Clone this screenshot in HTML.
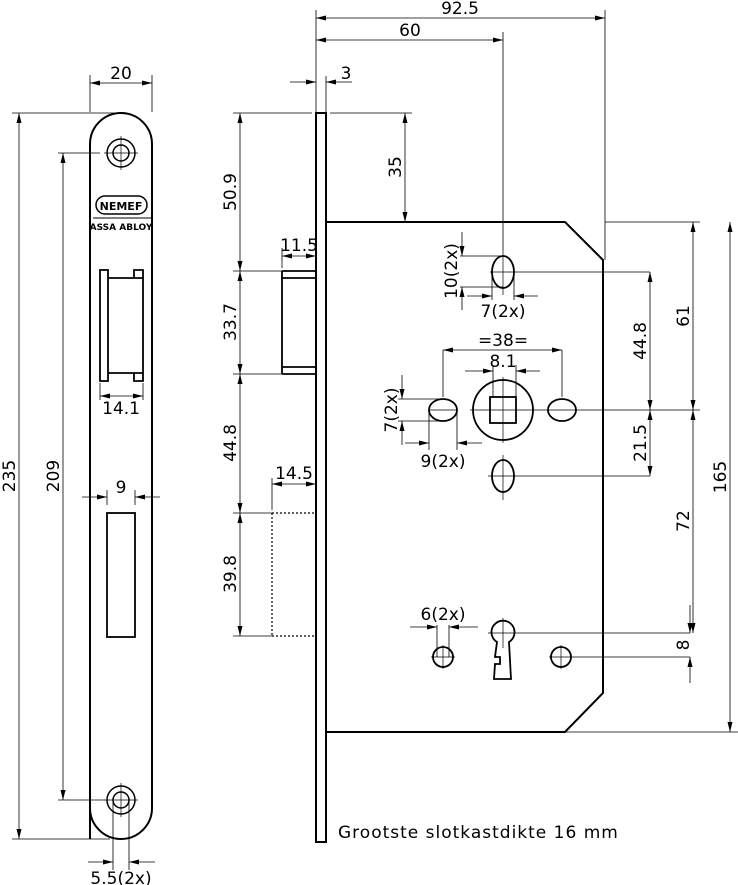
<!DOCTYPE html>
<html><head><meta charset="utf-8"><style>
html,body{margin:0;padding:0;background:#fff;}
svg{display:block;}
text{font-family:"DejaVu Sans","Liberation Sans",sans-serif;font-size:17px;fill:#000;}
</style></head><body>
<svg width="738" height="885" viewBox="0 0 738 885" xmlns="http://www.w3.org/2000/svg">
<defs>
<marker id="a" viewBox="0 0 10 6" refX="10" refY="3" markerWidth="10" markerHeight="6" orient="auto-start-reverse" markerUnits="userSpaceOnUse"><path d="M0,0.5 L10,3 L0,5.5 z" fill="#000"/></marker>
</defs>
<g fill="none" stroke="#000">
<path d="M90,839 L90,144 A31,31 0 0 1 152,144 L152,808 A31,31 0 0 1 90,808" stroke-width="2"/>
<circle cx="121" cy="153" r="14" stroke-width="1.5"/><circle cx="121" cy="153" r="8" stroke-width="1.5"/>
<circle cx="121" cy="800" r="14" stroke-width="1.5"/><circle cx="121" cy="800" r="8" stroke-width="1.5"/>
<path d="M121,136V170M104,153H138M121,783V817M104,800H138" stroke-width="0.7"/>
<rect x="96" y="196" width="51" height="18" rx="9" stroke-width="1.5"/>
<path d="M93,218H151" stroke-width="1"/>
<rect x="100" y="270" width="8" height="111" stroke-width="1.8"/>
<path d="M108,278H143V270H134V278M108,373H143V381H134V373M143,278V373" stroke-width="1.8"/>
<rect x="107" y="513" width="28" height="124" stroke-width="1.8"/>
<g stroke-width="0.8">
<path d="M90,112V75M152,112V75"/>
<path d="M90,83H152" marker-start="url(#a)" marker-end="url(#a)"/>
<path d="M12,113H120M58,153H100M12,839H110M58,800H105"/>
<path d="M19,113V839" marker-start="url(#a)" marker-end="url(#a)"/>
<path d="M63,153V800" marker-start="url(#a)" marker-end="url(#a)"/>
<path d="M100,383V400M143,383V400"/>
<path d="M100,396H143" marker-start="url(#a)" marker-end="url(#a)"/>
<path d="M107,505V490M135,505V490"/>
<path d="M82,497H107" marker-end="url(#a)"/><path d="M160,497H135" marker-end="url(#a)"/>
<path d="M113,800V870M129,800V870"/>
<path d="M88,862H113" marker-end="url(#a)"/><path d="M155,862H129" marker-end="url(#a)"/>
</g>
<rect x="316" y="113" width="10" height="729" stroke-width="2"/>
<path d="M326,222H565L603,260V693L565,732H326" stroke-width="2"/>
<path d="M282,271H316M282,278H316M282,367H316M282,374H316M282,271V374" stroke-width="1.8"/>
<path d="M272,513H316M272,636H316M272,513V636" stroke-width="1.2" stroke-dasharray="2,2"/>
<g stroke-width="1.8">
<ellipse cx="503" cy="272" rx="11" ry="16"/>
<ellipse cx="503" cy="476" rx="11" ry="16"/>
<circle cx="503" cy="410" r="30"/>
<rect x="490" y="397" width="26" height="26"/>
<ellipse cx="443" cy="410" rx="14" ry="11"/>
<ellipse cx="562" cy="410" rx="14" ry="11"/>
<circle cx="443" cy="657" r="10"/>
<circle cx="561" cy="657" r="10"/>
<path d="M497,642 A11.5,11.5 0 1 1 509,642 L511,679 H494 L495,664 H500 V657 H495 Z"/>
</g>
<g stroke-width="0.7">
<path d="M503,250V295M490,272H650M503,455V500M488,476H650M503,377V443M470,410H700M430,410H456M548,410H576M443,645V669M431,657H455M561,645V669M549,657H690M503,618V648M488,633H690"/>
</g>
<g stroke-width="0.8">
<path d="M316,112V10M605,260V10M503,250V32"/>
<path d="M316,18H605" marker-start="url(#a)" marker-end="url(#a)"/>
<path d="M316,40H503" marker-start="url(#a)" marker-end="url(#a)"/>
<path d="M326,112V76"/>
<path d="M290,82H316" marker-end="url(#a)"/><path d="M352,82H326" marker-end="url(#a)"/>
<path d="M330,113H412M326,222H410"/>
<path d="M405,113V222" marker-start="url(#a)" marker-end="url(#a)"/>
<path d="M233,113H312M233,271H282M233,374H282M233,513H272M233,636H272"/>
<path d="M240,113V271" marker-start="url(#a)" marker-end="url(#a)"/>
<path d="M240,271V374" marker-start="url(#a)" marker-end="url(#a)"/>
<path d="M240,374V513" marker-start="url(#a)" marker-end="url(#a)"/>
<path d="M240,513V636" marker-start="url(#a)" marker-end="url(#a)"/>
<path d="M282,268V248"/><path d="M282,256H316" marker-start="url(#a)" marker-end="url(#a)"/>
<path d="M272,510V478"/><path d="M272,484H316" marker-start="url(#a)" marker-end="url(#a)"/>
<path d="M605,222H700M565,732H740"/>
<path d="M650,272V410" marker-start="url(#a)" marker-end="url(#a)"/>
<path d="M650,410V476" marker-start="url(#a)" marker-end="url(#a)"/>
<path d="M693,222V410" marker-start="url(#a)" marker-end="url(#a)"/>
<path d="M693,410V633" marker-start="url(#a)" marker-end="url(#a)"/>
<path d="M690,605V633" marker-end="url(#a)"/><path d="M690,683V657" marker-end="url(#a)"/>
<path d="M730,222V732" marker-start="url(#a)" marker-end="url(#a)"/>
<path d="M460,256H503M460,287H503"/>
<path d="M462,232V256" marker-end="url(#a)"/><path d="M462,310V287" marker-end="url(#a)"/>
<path d="M492,272V300M514,272V300"/>
<path d="M467,296H492" marker-end="url(#a)"/><path d="M538,296H514" marker-end="url(#a)"/>
<path d="M443,397V350M562,397V350"/>
<path d="M443,350H562" marker-start="url(#a)" marker-end="url(#a)"/>
<path d="M493,397V365M516,397V365"/>
<path d="M465,371H493" marker-end="url(#a)"/><path d="M540,371H516" marker-end="url(#a)"/>
<path d="M398,399H443M398,421H443"/>
<path d="M402,375V399" marker-end="url(#a)"/><path d="M402,445V421" marker-end="url(#a)"/>
<path d="M429,410V450M457,410V450"/>
<path d="M405,443H429" marker-end="url(#a)"/><path d="M482,443H457" marker-end="url(#a)"/>
<path d="M437,657V625M449,657V625"/>
<path d="M410,627H437" marker-end="url(#a)"/><path d="M478,627H449" marker-end="url(#a)"/>
</g>
</g>
<text x="121" y="210" text-anchor="middle" style="font-size:11px;font-weight:bold">NEMEF</text>
<text x="121" y="230" text-anchor="middle" style="font-size:9px;font-weight:bold">ASSA ABLOY</text>
<text x="121" y="79" text-anchor="middle">20</text>
<text x="121" y="414" text-anchor="middle">14.1</text>
<text x="121" y="493" text-anchor="middle">9</text>
<text x="121" y="884" text-anchor="middle">5.5(2x)</text>
<text transform="translate(15,476) rotate(-90)" text-anchor="middle">235</text>
<text transform="translate(59,476) rotate(-90)" text-anchor="middle">209</text>
<text x="460" y="14" text-anchor="middle">92.5</text>
<text x="410" y="36" text-anchor="middle">60</text>
<text x="346" y="79" text-anchor="middle">3</text>
<text transform="translate(401,167) rotate(-90)" text-anchor="middle">35</text>
<text transform="translate(236,192) rotate(-90)" text-anchor="middle">50.9</text>
<text transform="translate(236,322) rotate(-90)" text-anchor="middle">33.7</text>
<text transform="translate(236,443) rotate(-90)" text-anchor="middle">44.8</text>
<text transform="translate(236,574) rotate(-90)" text-anchor="middle">39.8</text>
<text x="299" y="251" text-anchor="middle">11.5</text>
<text x="294" y="479" text-anchor="middle">14.5</text>
<text transform="translate(457,271) rotate(-90)" text-anchor="middle">10(2x)</text>
<text x="503" y="317" text-anchor="middle">7(2x)</text>
<text x="503" y="346" text-anchor="middle">=38=</text>
<text x="503" y="367" text-anchor="middle">8.1</text>
<text transform="translate(397,410) rotate(-90)" text-anchor="middle">7(2x)</text>
<text x="443" y="467" text-anchor="middle">9(2x)</text>
<text x="443" y="620" text-anchor="middle">6(2x)</text>
<text transform="translate(646,341) rotate(-90)" text-anchor="middle">44.8</text>
<text transform="translate(646,443) rotate(-90)" text-anchor="middle">21.5</text>
<text transform="translate(689,316) rotate(-90)" text-anchor="middle">61</text>
<text transform="translate(689,521) rotate(-90)" text-anchor="middle">72</text>
<text transform="translate(689,645) rotate(-90)" text-anchor="middle">8</text>
<text transform="translate(726,477) rotate(-90)" text-anchor="middle">165</text>
<text x="338" y="838" style="letter-spacing:1px">Grootste slotkastdikte 16 mm</text>
</svg>
</body></html>
